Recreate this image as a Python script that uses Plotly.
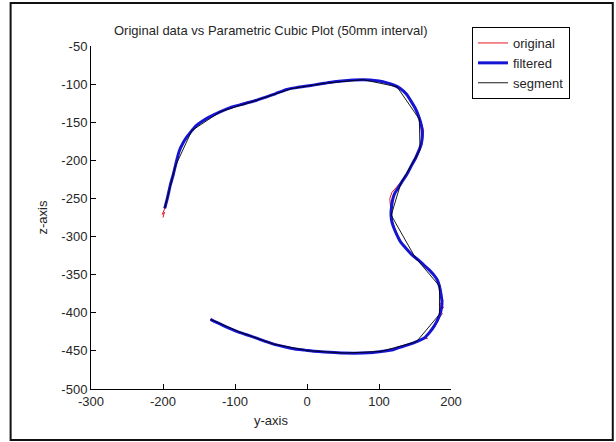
import plotly.graph_objects as go

# ---- data ----
orig_y = [-200, -198, -201, -199, -197, -195, -191, -186, -182, -178, -173, -167, -161, -155, -147, -137,
          -121, -105, -89, -72, -58, -45, -29, -15, -1, 11, 25, 38, 52, 65, 78, 89, 101, 111, 122, 131,
          139, 145, 151, 156, 159, 162, 161, 160, 156, 152, 146, 139, 131, 124, 118, 115, 116, 117, 119,
          122, 126, 131, 139, 147, 156, 164, 171, 177, 182, 185, 187, 185, 189, 184, 190, 185, 188, 184,
          182, 177, 171, 165, 167, 162, 153, 141, 130, 119, 105, 92, 78, 65, 50, 38, 24, 10, -3, -17,
          -30, -44, -58, -72, -86, -99, -110, -120, -128, -134]
orig_z = [-275, -268, -271, -266, -262, -252, -236, -219, -203, -190, -178, -170, -162, -156, -150, -144,
          -136.5, -131, -125, -121, -118, -113, -107.5, -104, -103, -101.5, -99.5, -97.5, -96, -95, -94.5,
          -95, -95.5, -98.5, -102, -106.5, -114, -122, -131.5, -142, -151, -161, -170, -178, -188, -197,
          -207, -219, -228, -236, -242, -250, -260, -272, -281, -290, -298, -307.5, -316.5, -325, -331.5,
          -338.5, -344.5, -351.5, -358, -365, -376, -380, -384, -389, -393, -397, -401, -406, -411, -418,
          -427, -430, -434, -433, -438, -442.5, -445.5, -449, -451, -452.5, -453, -453.5, -453, -452.5,
          -452, -451, -449.5, -447, -444.5, -441, -436.5, -432, -428, -423.5, -419, -414.5, -411, -408.5]

filt_y = [-197.6, -194, -190, -185.6, -181, -177.5, -172, -166.6, -160, -154.6, -146, -136.6, -120, -104,
          -88, -71, -57, -44, -28, -14, 0, 10.5, 24, 37.7, 52, 65, 78, 88, 100, 110, 121, 130, 138, 144,
          150, 154.8, 158, 160, 160, 158.6, 155, 151, 145, 138.5, 132, 126.5, 122, 119.4, 117.5, 116.7,
          118, 121, 125, 130, 138, 146.6, 155, 163, 170, 176.6, 181, 183.7, 186, 187.5, 186.5, 184.7, 181,
          176.6, 170, 163, 153, 141, 130, 119.4, 105, 92, 78, 65, 50, 37.7, 24, 10.5, -3, -16.8, -30, -44,
          -58, -71, -85, -98.5, -110, -120, -128, -134]
filt_z = [-263, -250, -233, -218, -200, -188, -177, -169, -161, -155, -149, -143.6, -136, -130, -126,
          -121.5, -117, -112.7, -107, -104.5, -102.5, -101, -99, -97, -95.5, -94.5, -94.2, -94.5, -96, -98,
          -101.5, -106, -113, -121.6, -131, -141.4, -151, -161.3, -170, -179, -188, -196.6, -207, -218.7,
          -228, -236.4, -243, -250, -260, -271.7, -281, -289.4, -298, -307, -316, -324.7, -331, -338, -344,
          -351, -357, -364.5, -375, -386.6, -395, -402, -410, -417.5, -426, -433, -437.5, -441.8, -445,
          -448.4, -450.5, -452, -452.8, -453, -452.8, -452, -451.5, -450.6, -449, -447.5, -445, -441.8,
          -437.5, -433, -428.5, -424, -419.5, -415, -411.5, -408.6]

seg_y = [-197.6, -183, -160, -120, -71, -22, 28, 78, 125, 156, 157, 130, 117, 150, 184, 184, 152, 102,
         52, 2, -47, -93, -134]
seg_z = [-263, -208, -161, -136, -121.5, -106, -98.5, -94.2, -103.5, -146, -186, -231, -272, -327, -365,
         -402, -438, -450.8, -452.8, -449.8, -441, -425.5, -408.6]

x_ticks = [-300, -200, -100, 0, 100, 200]
y_ticks = [-50, -100, -150, -200, -250, -300, -350, -400, -450, -500]

FONT = "Liberation Sans, Arial, sans-serif"
TXT = "#262626"

fig = go.Figure()
fig.add_trace(go.Scatter(x=orig_y, y=orig_z, mode="lines", name="original",
                         line=dict(color="#e8141e", width=1)))
fig.add_trace(go.Scatter(x=filt_y, y=filt_z, mode="lines", name="filtered",
                         line=dict(color="#1414d2", width=3, shape="spline", smoothing=0.6)))
fig.add_trace(go.Scatter(x=seg_y, y=seg_z, mode="lines", name="segment",
                         line=dict(color="#000000", width=0.9)))

# plot area in pixels: x 90.5..451, y 46..389
L, R, T, B = 90.5, 451.0, 46.0, 389.0
W, H = 616, 442
pw, ph = R - L, B - T

def px(x):
    return (x - L) / pw

def py(y):
    return (B - y) / ph

fig.update_layout(
    width=W, height=H,
    margin=dict(l=L, r=W - R, t=T, b=H - B, pad=0),
    paper_bgcolor="white", plot_bgcolor="white",
    font=dict(family=FONT, size=13, color=TXT),
    title=dict(text="Original data vs Parametric Cubic Plot (50mm interval)",
               x=(L + R) / 2 / W, xanchor="center", xref="container",
               y=1 - 30 / H, yanchor="middle", yref="container",
               font=dict(family=FONT, size=13, color=TXT)),
    showlegend=True,
    legend=dict(x=px(472), y=py(27), xanchor="left", yanchor="top",
                bordercolor="#000000", borderwidth=1, bgcolor="white",
                font=dict(family=FONT, size=13, color=TXT),
                tracegroupgap=0),
    xaxis=dict(range=[-300, 200], tickvals=x_ticks, ticktext=[str(v) for v in x_ticks],
               showline=True, linecolor="#000000", linewidth=1, mirror=False,
               ticks="inside", ticklen=5, tickcolor="#000000", showgrid=False, zeroline=False,
               title=dict(text="y-axis", standoff=8, font=dict(family=FONT, size=13, color=TXT)),
               tickfont=dict(family=FONT, size=13, color=TXT)),
    yaxis=dict(range=[-500, -50], tickvals=y_ticks, ticktext=[str(v) for v in y_ticks],
               showline=True, linecolor="#000000", linewidth=1, mirror=False,
               ticks="inside", ticklen=5, tickcolor="#000000", showgrid=False, zeroline=False,
               title=dict(text="z-axis", standoff=10, font=dict(family=FONT, size=13, color=TXT)),
               tickfont=dict(family=FONT, size=13, color=TXT)),
    shapes=[dict(type="rect", xref="paper", yref="paper",
                 x0=px(10), x1=px(613), y0=py(440), y1=py(3),
                 line=dict(color="#111111", width=2), fillcolor="rgba(0,0,0,0)", layer="below")],
)

fig.write_html("out.html")
